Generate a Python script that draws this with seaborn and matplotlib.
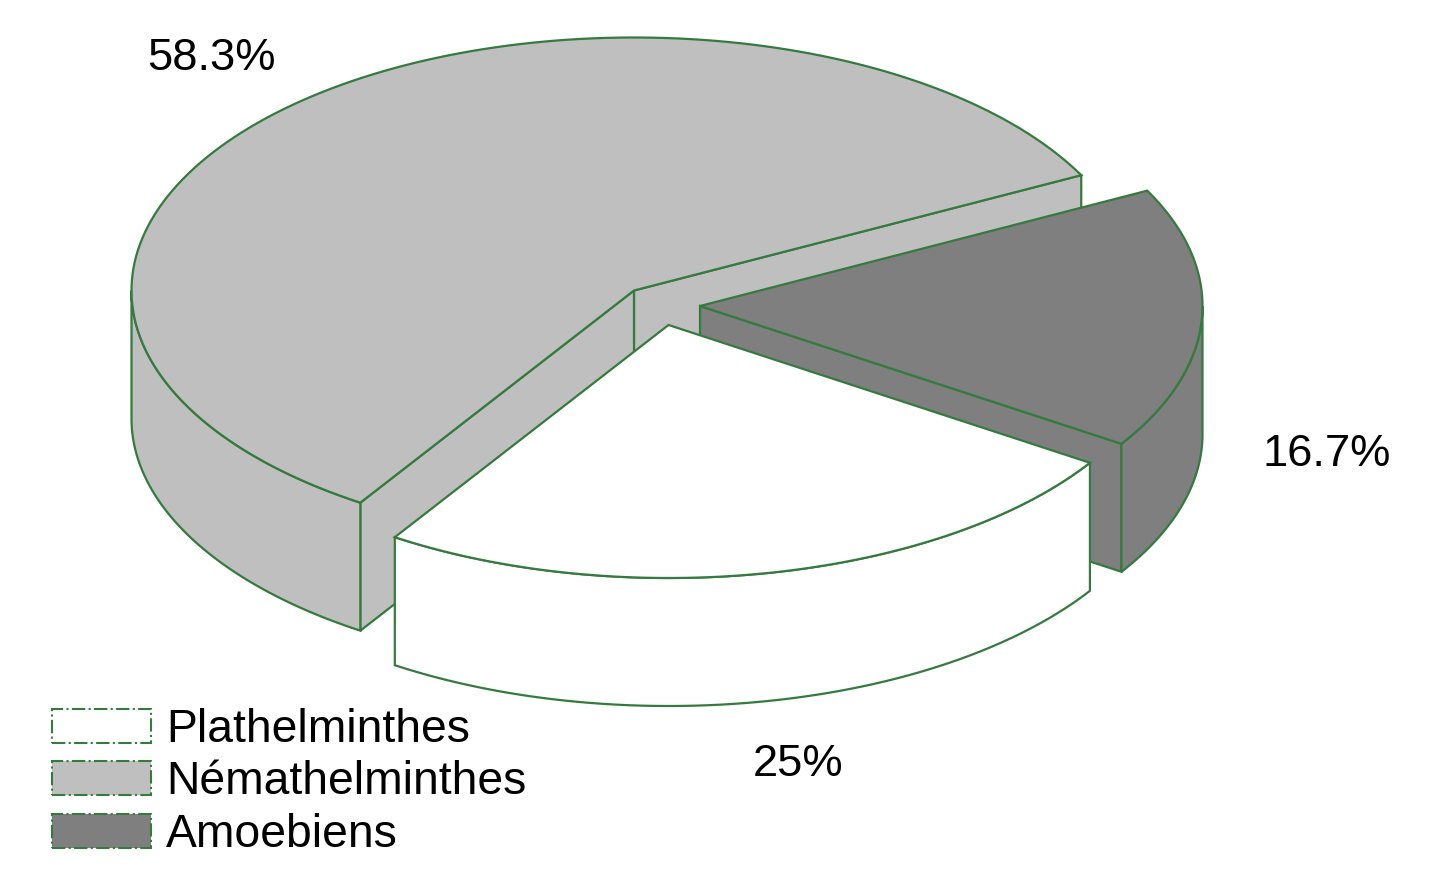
import numpy as np
import matplotlib
matplotlib.use("Agg")
import matplotlib.pyplot as plt
from matplotlib.patches import Patch
from matplotlib.transforms import IdentityTransform
import seaborn as sns

# pie data
labels = ["Plathelminthes", "Némathelminthes", "Amoebiens"]
shares = [25, 58.3, 16.7]
pct_labels = ["25%", "58.3%", "16.7%"]
colors = ["#FFFFFF", "#BFBFBF", "#7F7F7F"]

edge = "#357A3F"

sns.set_theme(style="white")
plt.rcParams["font.family"] = ["Liberation Sans", "DejaVu Sans"]

# fake 3d pie, axes are in pixels of the image
rx, ry, depth = 502.5, 253, 128
start_angle = 327
centers = {"Plathelminthes": (668.5, 325), "Némathelminthes": (634, 290.5), "Amoebiens": (700, 306)}
pct_pos = {"Plathelminthes": (798, 764), "Némathelminthes": (211, 58), "Amoebiens": (1327, 454)}


def rim(c, a1, a2):
    t = np.radians(np.linspace(a1, a2, 150))
    return c[0] + rx * np.cos(t), c[1] - ry * np.sin(t)


def face(ax, xs, ys, color):
    ax.fill(xs, ys, facecolor=color, edgecolor=edge, linewidth=1.6, joinstyle="miter", closed=True)


def outer_wall(ax, c, a1, a2, color):
    x, y = rim(c, a1, a2)
    face(ax, np.r_[x, x[::-1]], np.r_[y, y[::-1] + depth], color)


def cut_wall(ax, c, a, color):
    x, y = rim(c, a, a)
    x, y = x[0], y[0]
    face(ax, [c[0], x, x, c[0]], [c[1], y, y + depth, c[1] + depth], color)


# angles go clockwise from start_angle
angles = {}
a = start_angle
for name, s in zip(labels, shares):
    angles[name] = (a, a - s * 3.6)
    a = a - s * 3.6

fig, ax = plt.subplots(figsize=(14.47, 8.81), dpi=100)
fig.subplots_adjust(left=0, right=1, bottom=0, top=1)
ax.set_xlim(0, 1447)
ax.set_ylim(881, 0)
ax.axis("off")

# back to front: grey, dark, white
c = centers["Némathelminthes"]
hi, lo = angles["Némathelminthes"]
cut_wall(ax, c, lo, colors[1])
cut_wall(ax, c, hi, colors[1])
outer_wall(ax, c, 180, hi, colors[1])
x, y = rim(c, lo, hi)
face(ax, np.r_[c[0], x], np.r_[c[1], y], colors[1])

c = centers["Amoebiens"]
hi, lo = angles["Amoebiens"]
cut_wall(ax, c, lo, colors[2])
outer_wall(ax, c, lo, 0, colors[2])
x, y = rim(c, lo, hi)
face(ax, np.r_[c[0], x], np.r_[c[1], y], colors[2])

c = centers["Plathelminthes"]
hi, lo = angles["Plathelminthes"]
outer_wall(ax, c, lo, hi, colors[0])
x, y = rim(c, lo, hi)
face(ax, np.r_[c[0], x], np.r_[c[1], y], colors[0])

for name, txt in zip(labels, pct_labels):
    ax.text(*pct_pos[name], txt, fontsize=32.6, color="black", ha="center", va="center")

handles = [Patch(facecolor=col, edgecolor=edge, linewidth=1.5, linestyle="-.", label=name)
           for col, name in zip(colors, labels)]
ax.legend(handles=handles, loc="lower left", bbox_to_anchor=(52, 24),
          bbox_transform=IdentityTransform(), frameon=False, fontsize=33.3, labelcolor="black",
          handlelength=2.14, handleheight=0.76, handletextpad=0.33, labelspacing=0.185,
          borderpad=0, borderaxespad=0)

fig.savefig("out.png", dpi=100)
